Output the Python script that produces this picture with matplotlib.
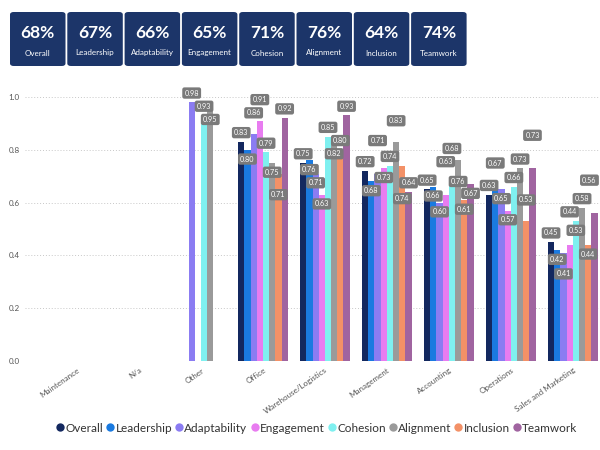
import matplotlib.pyplot as plt
import numpy as np
from matplotlib.patches import FancyBboxPatch
from matplotlib.lines import Line2D

plt.rcParams['font.family'] = ['Lato', 'DejaVu Sans']

categories = ["Maintenance", "N/a", "Other", "Office", "Warehouse/Logistics",
              "Management", "Accounting", "Operations", "Sales and Marketing"]
series = ["Overall", "Leadership", "Adaptability", "Engagement",
          "Cohesion", "Alignment", "Inclusion", "Teamwork"]
kpi_values = ["68%", "67%", "66%", "65%", "71%", "76%", "64%", "74%"]

nan = np.nan
overall      = [nan, nan, nan, 0.83, 0.75, 0.72, 0.65, 0.63, 0.45]
leadership   = [nan, nan, nan, 0.80, 0.76, 0.68, 0.66, 0.67, 0.42]
adaptability = [nan, nan, 0.98, 0.86, 0.71, 0.71, 0.60, 0.65, 0.41]
engagement   = [nan, nan, nan, 0.91, 0.63, 0.73, 0.63, 0.57, 0.44]
cohesion     = [nan, nan, 0.93, 0.79, 0.85, 0.74, 0.68, 0.66, 0.53]
alignment    = [nan, nan, 0.95, 0.75, 0.82, 0.83, 0.76, 0.73, 0.58]
inclusion    = [nan, nan, nan, 0.71, 0.80, 0.74, 0.61, 0.53, 0.44]
teamwork     = [nan, nan, nan, 0.92, 0.93, 0.64, 0.67, 0.73, 0.56]

data = [overall, leadership, adaptability, engagement,
        cohesion, alignment, inclusion, teamwork]
colors = ["#13285f", "#1a7ae0", "#8b7cf2", "#e87cf0",
          "#7ff0f0", "#9a9a9a", "#f39167", "#a064a0"]

fig = plt.figure(figsize=(6, 4.5), dpi=100)

# KPI cards across the top
card_w, card_gap, x0 = 55.5 / 600, 1.8 / 600, 10 / 600
for i, (val, name) in enumerate(zip(kpi_values, series)):
    x = x0 + i * (card_w + card_gap)
    box = FancyBboxPatch((x, 1 - 66 / 450), card_w, 54 / 450,
                         boxstyle="round,pad=0,rounding_size=0.006",
                         transform=fig.transFigure, facecolor="#1c3569",
                         edgecolor="none")
    fig.patches.append(box)
    fig.text(x + card_w / 2, 1 - 33 / 450, val, color="white", fontsize=12.5,
             fontweight="bold", ha="center", va="center")
    fig.text(x + card_w / 2, 1 - 53 / 450, name, color="white", fontsize=5.8,
             ha="center", va="center")

ax = fig.add_axes([25 / 600, 1 - 361 / 450, 575 / 600, 264 / 450])
x = np.arange(len(categories))
w = 0.1
lab_w, lab_h = 0.34, 0.045   # label box size in data units
cands = [0.035, -0.035, 0.08, -0.08, 0.125, -0.125, 0.17, -0.17]
placed = {k: [] for k in range(len(categories))}
for j, (vals, c) in enumerate(zip(data, colors)):
    xs = x + (j - 3.5) * w
    ax.bar(xs, vals, width=w, color=c, zorder=2)
    for k, v in enumerate(vals):
        if np.isnan(v):
            continue
        lx = min(xs[k], 8.44 - lab_w / 2)
        ly = v + cands[0]
        for off in cands:
            y = v + off
            if all(abs(lx - px) >= lab_w or abs(y - py) >= lab_h for px, py in placed[k]):
                ly = y
                break
        placed[k].append((lx, ly))
        ax.text(lx, ly, f"{v:.2f}", fontsize=5.2, color="white",
                ha="center", va="center", zorder=5, clip_on=False,
                bbox=dict(boxstyle="round,pad=0.3,rounding_size=0.3",
                          fc="#7a7a7a", ec="none"))

ax.set_xlim(-0.84, 8.44)
ax.set_ylim(0, 1.0)
ax.set_yticks([0, 0.2, 0.4, 0.6, 0.8, 1.0])
ax.set_yticklabels(["0.0", "0.2", "0.4", "0.6", "0.8", "1.0"])
ax.yaxis.grid(True, linestyle=(0, (1, 2)), color="#c8c8c8", linewidth=0.7, zorder=0)
ax.set_xticks(x)
ax.set_xticklabels(categories, rotation=35, ha="right", rotation_mode="anchor")
ax.tick_params(axis="both", length=0, labelsize=5.8, labelcolor="#555555", pad=4)
for s in ax.spines.values():
    s.set_visible(False)

handles = [Line2D([], [], marker="o", linestyle="none", markersize=6,
                  markerfacecolor=c, markeredgecolor="none") for c in colors]
fig.legend(handles, series, loc="center", bbox_to_anchor=(317 / 600, 1 - 428 / 450),
           ncol=8, frameon=False, fontsize=8.5, handlelength=0.6,
           handletextpad=0.15, columnspacing=0.3, labelcolor="#333333")

fig.savefig("out.png", dpi=100)
